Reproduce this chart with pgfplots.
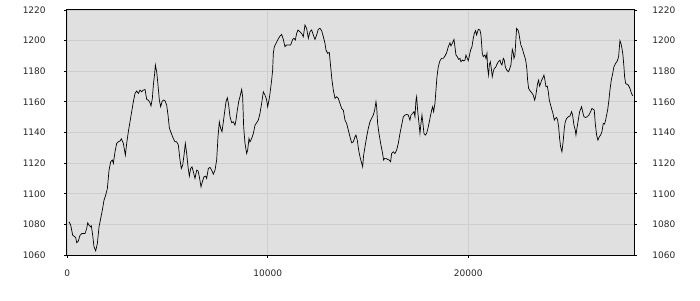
\documentclass[border=0pt]{standalone}
\usepackage{pgfplots}
\pgfplotsset{compat=1.18}
\usepackage{fontspec}
\setmainfont{DejaVu Sans}
\definecolor{bgc}{RGB}{224,224,224}
\definecolor{gridc}{RGB}{206,206,206}
\begin{document}
\begin{tikzpicture}
\path[use as bounding box] (-66.7pt,-45pt) rectangle (633.3pt,255pt);
\pgfplotsset{
  common/.style={
    at={(0,0)}, anchor=south west,
    scale only axis, width=567.6pt, height=245pt,
    xmin=-33, xmax=28290, ymin=1060, ymax=1220,
    ytick={1060,1080,...,1220},
    scaled x ticks=false, scaled y ticks=false,
    tick align=outside,
    major tick length=2.5pt,
    tick style={black, line width=0.8pt},
    /pgf/number format/assume math mode=true,
    ticklabel style={font=\fontsize{9}{10}\selectfont, text=black!85},
    axis line style={black, line width=1pt},
  }
}
\begin{axis}[common,
  axis background/.style={fill=bgc},
  xtick={0,10000,20000},
  xticklabel style={/pgf/number format/1000 sep={}, yshift=-9pt},
  ytick pos=left, xtick pos=bottom,
  yticklabel style={/pgf/number format/1000 sep={}, xshift=-15pt},
  grid=major,
  major grid style={gridc, line width=0.8pt},
  axis on top=false,
]
\addplot[black, line width=0.7pt, mark=none] coordinates {
(83,1081.7) (166,1079.5) (266,1072.9) (333,1072.3) (416,1071.4) (466,1068.1) (549,1069.2) (632,1072.9) (715,1074.0) (881,1074.0) (965,1077.3) (1014,1081.0) (1081,1079.5) (1164,1078.4) (1197,1079.0) (1264,1072.9) (1330,1065.3) (1414,1062.7) (1497,1067.5) (1580,1078.4) (1663,1083.8) (1746,1089.3) (1829,1095.8) (1912,1099.1) (1996,1103.4) (2079,1115.4) (2162,1120.9) (2245,1122.0) (2295,1119.8) (2378,1127.4) (2461,1132.9) (2544,1134.0) (2628,1134.4) (2694,1135.9) (2794,1132.9) (2894,1125.2) (2960,1132.9) (3043,1140.5) (3126,1147.0) (3210,1153.6) (3293,1160.1) (3376,1165.5) (3459,1167.1) (3542,1165.5) (3625,1167.7) (3708,1166.6) (3792,1167.7) (3875,1168.1) (3958,1161.6) (4041,1161.2) (4124,1159.4) (4174,1157.3) (4241,1162.3) (4291,1171.0) (4357,1178.6) (4390,1184.1) (4457,1179.7) (4523,1171.0) (4590,1161.2) (4656,1156.8) (4723,1160.1) (4789,1161.2) (4873,1160.7) (4956,1157.9) (5022,1151.4) (5089,1143.1) (5155,1140.5) (5222,1138.3) (5288,1136.1) (5371,1133.9) (5455,1133.9) (5538,1131.8) (5621,1122.0) (5687,1116.5) (5754,1118.7) (5821,1125.2) (5887,1132.9) (5954,1126.3) (6020,1117.6) (6087,1111.5) (6153,1116.5) (6220,1117.6) (6286,1114.3) (6369,1110.0) (6453,1115.4) (6519,1115.0) (6586,1111.1) (6669,1104.5) (6735,1107.8) (6818,1111.1) (6901,1111.5) (6951,1110.0) (7035,1116.5) (7118,1117.2) (7201,1115.4) (7284,1112.8) (7367,1115.4) (7450,1122.0) (7517,1137.2) (7583,1147.0) (7650,1142.7) (7716,1140.5) (7783,1147.0) (7849,1153.6) (7916,1160.1) (7982,1162.7) (8049,1157.9) (8115,1150.3) (8199,1146.4) (8282,1147.0) (8365,1144.8) (8415,1148.1) (8481,1154.6) (8548,1160.1)
(8614,1163.4) (8697,1168.1) (8747,1163.4) (8797,1143.7) (8864,1132.9) (8947,1126.3) (8997,1128.5) (9063,1136.1) (9113,1133.9) (9196,1136.1) (9280,1139.4) (9363,1144.8) (9446,1146.4) (9529,1148.1) (9612,1152.5) (9695,1159.0) (9778,1166.6) (9862,1164.4) (9945,1161.2) (9995,1156.8) (10061,1161.2) (10111,1165.5) (10194,1174.2) (10244,1180.8) (10277,1191.7) (10327,1196.0) (10410,1198.2) (10494,1200.4) (10610,1203.0) (10693,1204.1) (10776,1200.8) (10859,1196.0) (10942,1197.1) (11026,1197.1) (11142,1197.1) (11242,1200.8) (11308,1201.5) (11375,1200.4) (11441,1204.7) (11508,1206.9) (11608,1205.8) (11691,1204.7) (11774,1202.6) (11857,1210.2) (11940,1208.0) (12024,1201.5) (12107,1205.8) (12190,1206.9) (12273,1203.7) (12356,1200.8) (12439,1203.7) (12522,1207.4) (12606,1208.0) (12689,1206.5) (12772,1202.6) (12855,1198.2) (12905,1193.9) (12988,1191.7) (13071,1192.3) (13138,1183.0) (13204,1174.2) (13271,1167.7) (13354,1162.3) (13437,1163.4) (13520,1162.3) (13603,1159.0) (13686,1155.7) (13770,1154.6) (13853,1148.1) (13936,1145.9) (14019,1141.6) (14102,1137.2) (14185,1133.3) (14268,1133.9) (14352,1137.2) (14401,1138.3) (14468,1135.0) (14535,1128.5) (14601,1124.1) (14668,1120.9) (14734,1117.6) (14784,1125.2) (14851,1130.7) (14934,1137.2) (15017,1142.7) (15100,1147.0) (15183,1149.2) (15267,1151.4) (15333,1154.6) (15400,1160.1) (15433,1156.8) (15483,1145.9) (15549,1139.4) (15632,1132.9) (15715,1127.4) (15782,1122.0) (15832,1123.1) (15898,1123.1) (15981,1122.4) (16065,1122.0) (16131,1120.9) (16181,1126.3) (16264,1127.4) (16347,1126.3) (16430,1128.5) (16513,1132.9) (16597,1139.4) (16680,1144.8) (16763,1150.3) (16846,1151.4) (16929,1151.8) (17012,1151.4) (17095,1148.1) (17145,1151.4) (17229,1152.5) (17295,1153.6) (17345,1150.3) (17395,1161.2) (17428,1163.4) (17478,1154.6) (17545,1145.9) (17595,1139.4) (17645,1145.9) (17694,1151.4) (17744,1145.9) (17794,1139.4) (17861,1138.3) (17927,1139.4) (18010,1143.7) (18093,1149.2) (18176,1154.6) (18226,1156.8) (18276,1153.6) (18343,1159.0) (18393,1167.7) (18443,1176.4) (18509,1183.0) (18592,1186.9) (18675,1188.4) (18759,1188.4) (18842,1189.9) (18925,1192.1) (19008,1196.0) (19091,1198.6) (19141,1196.5) (19207,1198.2) (19291,1200.8) (19340,1196.0) (19391,1190.6) (19457,1189.5) (19524,1187.8)
(19590,1188.4) (19640,1186.2) (19723,1187.3) (19790,1186.7) (19840,1187.3) (19890,1190.6) (19956,1188.4) (20006,1186.9) (20056,1189.9) (20122,1193.9) (20189,1196.0) (20255,1201.5) (20305,1204.7) (20372,1206.5) (20422,1203.7) (20505,1207.4) (20588,1206.9) (20638,1203.7) (20704,1191.7) (20754,1189.5) (20837,1190.6) (20887,1188.4) (20937,1191.7) (20971,1181.9) (21020,1177.5) (21054,1184.1) (21104,1186.2) (21154,1181.9) (21203,1176.4) (21253,1179.7) (21303,1181.9) (21370,1182.5) (21419,1184.1) (21503,1186.2) (21586,1187.3) (21636,1185.1) (21686,1184.1) (21752,1188.4) (21802,1187.3) (21852,1183.0) (21918,1180.8) (22001,1179.7) (22051,1180.8) (22134,1184.1) (22201,1194.3) (22251,1192.1) (22284,1188.4) (22334,1190.6) (22384,1201.5) (22417,1208.0) (22484,1206.9) (22534,1204.7) (22583,1200.4) (22633,1197.1) (22700,1194.9) (22767,1191.7) (22833,1189.1) (22883,1186.2) (22933,1180.8) (22966,1174.2) (23016,1168.8) (23083,1167.3) (23166,1166.0) (23249,1164.4) (23315,1161.2) (23365,1163.4) (23415,1167.7) (23465,1172.1) (23515,1174.2) (23565,1170.3) (23615,1172.1) (23665,1174.2) (23715,1175.3) (23781,1177.5) (23831,1174.2) (23881,1169.9) (23948,1170.3) (23998,1166.6) (24047,1161.2) (24114,1157.9) (24181,1154.6) (24231,1152.5) (24297,1148.1) (24347,1149.2) (24413,1149.8) (24463,1148.1) (24513,1143.7) (24563,1136.1) (24612,1130.7) (24679,1127.4) (24746,1135.0) (24796,1142.7) (24845,1147.0) (24912,1149.2) (24995,1150.3) (25078,1150.7) (25161,1153.6) (25211,1151.4) (25278,1144.8) (25344,1141.6) (25378,1138.3) (25427,1142.7) (25494,1148.1) (25561,1153.6) (25660,1156.8) (25710,1153.6) (25777,1150.3) (25860,1149.8) (25943,1150.3) (26026,1151.4) (26109,1153.6) (26176,1155.7) (26243,1155.1) (26292,1154.6) (26342,1145.9) (26409,1138.3) (26475,1135.0) (26542,1137.2) (26608,1138.3) (26675,1140.5) (26741,1145.9) (26808,1145.5) (26858,1148.1) (26908,1151.4) (26958,1154.6) (27024,1161.2) (27074,1167.7) (27141,1174.2) (27207,1178.2) (27274,1183.0) (27357,1185.1) (27440,1186.7) (27507,1189.5) (27540,1194.9) (27573,1200.0) (27623,1198.2) (27673,1194.9) (27723,1190.6) (27772,1183.0) (27806,1176.4) (27856,1172.1) (27905,1171.6) (27989,1171.0) (28072,1168.8) (28138,1166.0) (28205,1164.0)
};
\end{axis}
\begin{axis}[common,
  axis x line=none,
  axis y line*=right,
  yticklabel style={/pgf/number format/1000 sep={}, xshift=12pt},
]
\addplot[draw=none] coordinates {(0,1100)};
\end{axis}
\end{tikzpicture}
\end{document}
